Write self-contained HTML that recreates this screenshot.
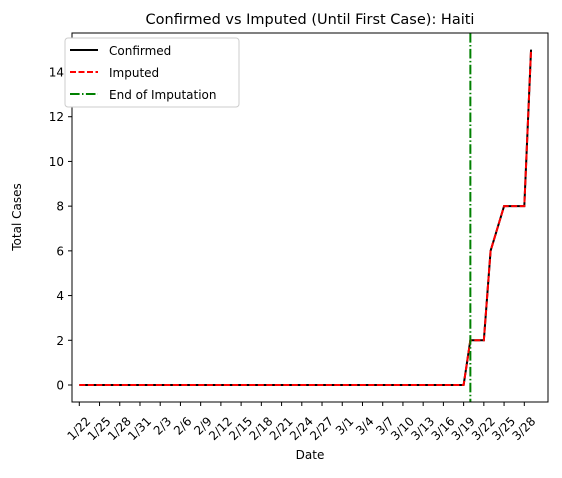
<!DOCTYPE html>
<html><head><meta charset="utf-8"><style>
body{margin:0;background:#fff;}
svg text{font-family:"DejaVu Sans","Liberation Sans",sans-serif;fill:#000;}
</style></head><body>
<svg id="chart" width="562" height="473" xmlns="http://www.w3.org/2000/svg">
<rect width="562" height="473" fill="#fff"/>
<text x="310" y="24" font-size="14.5" text-anchor="middle">Confirmed vs Imputed (Until First Case): Haiti</text>
<g id="grid"></g>
<g id="series"></g>
<rect x="72" y="33" width="476" height="369" fill="none" stroke="#000" stroke-width="1"/>
<text x="310" y="459" font-size="12" text-anchor="middle">Date</text>
<text transform="translate(21,217) rotate(-90)" font-size="12" text-anchor="middle">Total Cases</text>
<g>
<rect x="65" y="38" width="174" height="69" rx="3" fill="#fff" stroke="#ccc"/>
<line x1="70" y1="50" x2="98" y2="50" stroke="#000" stroke-width="2"/>
<text x="109" y="55" font-size="12">Confirmed</text>
<line x1="70" y1="72" x2="98" y2="72" stroke="red" stroke-width="2" stroke-dasharray="6,2.5"/>
<text x="109" y="77" font-size="12">Imputed</text>
<line x1="70" y1="94" x2="98" y2="94" stroke="green" stroke-width="2" stroke-dasharray="9.6,2.4,1.5,2.4"/>
<text x="109" y="99" font-size="12">End of Imputation</text>
</g>
</svg>
<script>
const confirmed = [0,0,0,0,0,0,0,0,0,0,0,0,0,0,0,0,0,0,0,0,0,0,0,0,0,0,0,0,0,0,0,0,0,0,0,0,0,0,0,0,0,0,0,0,0,0,0,0,0,0,0,0,0,0,0,0,0,0,2,2,2,6,7,8,8,8,8,15];
const imputed = confirmed.slice();
const endImputationIndex = 58;
const yTicks = [0,2,4,6,8,10,12,14];
const monthDays = [31,29,31];
const svg = document.getElementById('chart');
const NS = 'http://www.w3.org/2000/svg';
const xs = i => 79.3 + i * (445 / 66);
const ys = v => 385 - v * (313 / 14);
function mk(tag, attrs, parent){const e=document.createElementNS(NS,tag);for(const k in attrs)e.setAttribute(k,attrs[k]);parent.appendChild(e);return e;}
const grid = document.getElementById('grid');
yTicks.forEach(v=>{
  const y=ys(v);
  const t=mk('line',{x1:68,x2:72,y1:y,y2:y,stroke:'#000'},grid);
  
  
  const l=mk('text',{x:64,y:y+4.5,'font-size':12,'text-anchor':'end'},grid);
  l.textContent=v;
  
  
});
function dateLabel(i){let m=1,d=22+i;while(d>monthDays[m-1]){d-=monthDays[m-1];m++;}return m+'/'+d;}
for(let i=0;i<confirmed.length;i+=3){
  const x=xs(i);
  const t=mk('line',{x1:x,x2:x,y1:402,y2:406,stroke:'#000'},grid);
  
  
  const l=mk('text',{x:0,y:0,'font-size':12,'text-anchor':'end',transform:`translate(${x+12},${422}) rotate(-45)`},grid);
  l.textContent=dateLabel(i);
  
  
}
const g=document.getElementById('series');
const p1=mk('polyline',{points:confirmed.map((v,i)=>xs(i)+','+ys(v)).join(' '),fill:'none',stroke:'#000','stroke-width':2},g);


const p2=mk('polyline',{points:imputed.map((v,i)=>xs(i)+','+ys(v)).join(' '),fill:'none',stroke:'red','stroke-width':2,'stroke-dasharray':'6,2.5'},g);


const vx=xs(endImputationIndex);
const vl=mk('line',{x1:vx,x2:vx,y1:33,y2:402,stroke:'green','stroke-width':2,'stroke-dasharray':'9.6,2.4,1.5,2.4'},g);


</script>
</body></html>
